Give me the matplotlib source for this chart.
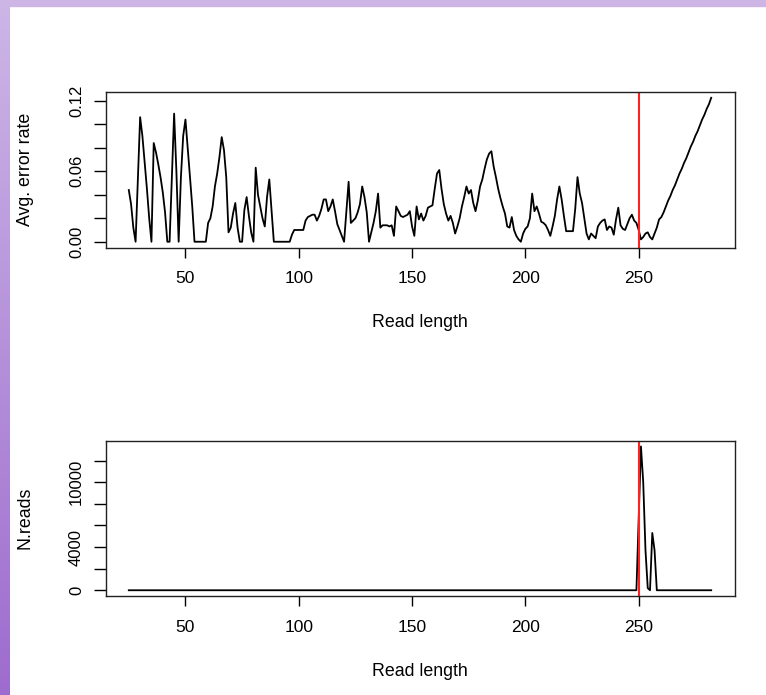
import numpy as np
import matplotlib
matplotlib.use("Agg")
import matplotlib.pyplot as plt
from matplotlib.patches import Rectangle

plt.rcParams['font.family'] = ['Liberation Sans', 'DejaVu Sans']

# read lengths 25..282
read_len = np.arange(25, 283)

# average error rate per read length (rows of ten, first length in comment)
err_rate = [
    0.044, 0.032, 0.012, 0.000, 0.053, 0.106, 0.090, 0.068, 0.045, 0.020,  # 25
    0.000, 0.084, 0.076, 0.066, 0.055, 0.042, 0.025, 0.000, 0.000, 0.054,  # 35
    0.109, 0.060, 0.000, 0.055, 0.090, 0.104, 0.080, 0.055, 0.030, 0.000,  # 45
    0.000, 0.000, 0.000, 0.000, 0.000, 0.016, 0.020, 0.030, 0.047, 0.058,  # 55
    0.072, 0.089, 0.078, 0.055, 0.008, 0.012, 0.024, 0.033, 0.012, 0.000,  # 65
    0.000, 0.027, 0.038, 0.022, 0.008, 0.000, 0.063, 0.040, 0.030, 0.020,  # 75
    0.013, 0.038, 0.053, 0.027, 0.000, 0.000, 0.000, 0.000, 0.000, 0.000,  # 85
    0.000, 0.000, 0.006, 0.010, 0.010, 0.010, 0.010, 0.010, 0.018, 0.021,  # 95
    0.022, 0.023, 0.023, 0.018, 0.022, 0.028, 0.036, 0.036, 0.026, 0.030,  # 105
    0.036, 0.026, 0.015, 0.010, 0.005, 0.000, 0.025, 0.051, 0.016, 0.018,  # 115
    0.020, 0.025, 0.032, 0.047, 0.038, 0.025, 0.000, 0.008, 0.016, 0.026,  # 125
    0.041, 0.012, 0.014, 0.014, 0.014, 0.013, 0.014, 0.005, 0.030, 0.026,  # 135
    0.022, 0.021, 0.022, 0.023, 0.026, 0.013, 0.005, 0.030, 0.019, 0.024,  # 145
    0.018, 0.022, 0.029, 0.030, 0.031, 0.045, 0.058, 0.061, 0.045, 0.032,  # 155
    0.024, 0.018, 0.022, 0.016, 0.007, 0.013, 0.020, 0.030, 0.038, 0.047,  # 165
    0.041, 0.044, 0.033, 0.026, 0.035, 0.047, 0.053, 0.062, 0.070, 0.075,  # 175
    0.077, 0.064, 0.055, 0.045, 0.037, 0.030, 0.024, 0.013, 0.012, 0.021,  # 185
    0.010, 0.005, 0.002, 0.000, 0.007, 0.011, 0.013, 0.020, 0.041, 0.026,  # 195
    0.030, 0.024, 0.017, 0.016, 0.014, 0.010, 0.005, 0.013, 0.022, 0.036,  # 205
    0.047, 0.036, 0.022, 0.009, 0.009, 0.009, 0.009, 0.028, 0.055, 0.041,  # 215
    0.033, 0.020, 0.007, 0.002, 0.007, 0.005, 0.003, 0.013, 0.016, 0.018,  # 225
    0.019, 0.010, 0.013, 0.012, 0.006, 0.019, 0.029, 0.014, 0.011, 0.010,  # 235
    0.015, 0.020, 0.023, 0.018, 0.016, 0.010, 0.002, 0.004, 0.007, 0.008,  # 245
    0.004, 0.002, 0.007, 0.012, 0.019, 0.021, 0.025, 0.030, 0.035, 0.039,  # 255
    0.044, 0.048, 0.053, 0.058, 0.062, 0.067, 0.071, 0.076, 0.081, 0.085,  # 265
    0.090, 0.094, 0.099, 0.104, 0.108, 0.113, 0.117, 0.1225,               # 275
]

# number of reads per length: zero outside 249..258
n_reads = [0] * 224 + [0, 6600, 13300, 10000, 3700, 200, 0, 5300, 3700, 0] + [0] * 24

cutoff = 250

err_ticks = [0.00, 0.02, 0.04, 0.06, 0.08, 0.10, 0.12]
err_labels = ["0.00", "", "", "0.06", "", "", "0.12"]
reads_ticks = [0, 2000, 4000, 6000, 8000, 10000, 12000]
reads_labels = ["0", "", "4000", "", "", "10000", ""]
x_ticks = [50, 100, 150, 200, 250]

W, H = 766, 695
fig = plt.figure(figsize=(W / 100, H / 100), dpi=100)
fig.patch.set_facecolor("white")

# purple slide border (top strip + left gradient strip)
fig.patches.append(Rectangle((0, 1 - 6 / H), 1, 6 / H, transform=fig.transFigure,
                             color="#cdb6e6", zorder=0))
strip = fig.add_axes([0, 0, 10 / W, 1])
top_c = np.array([205, 182, 230]) / 255
bot_c = np.array([158, 108, 206]) / 255
t = np.linspace(0, 1, 256)[:, None]
grad = (top_c[None, :] * (1 - t) + bot_c[None, :] * t)[:, None, :]
strip.imshow(grad, aspect="auto", extent=[0, 1, 0, 1])
strip.axis("off")


def style_axes(ax, yticks, ylabels):
    ax.margins(x=0.04, y=0.04)
    ax.set_xticks(x_ticks)
    ax.set_xticklabels([str(v) for v in x_ticks])
    ax.set_yticks(yticks)
    ax.set_yticklabels(ylabels)
    ax.tick_params(axis="x", length=7.5, width=1.0, pad=9.5, labelsize=12.5)
    ax.tick_params(axis="y", length=9, width=1.0, pad=6.5, labelsize=12)
    for lab in ax.get_yticklabels():
        lab.set_rotation(90)
        lab.set_va("center")
    for s in ax.spines.values():
        s.set_linewidth(1.0)
        s.set_color("#202020")


left, width = 105.5 / W, 629 / W

ax1 = fig.add_axes([left, 1 - 247.5 / H, width, 155.5 / H])
ax1.plot(read_len, err_rate, color="black", lw=1.3)
ax1.axvline(cutoff, color="#ff2020", lw=1.5)
style_axes(ax1, err_ticks, err_labels)

ax2 = fig.add_axes([left, 1 - 596 / H, width, 155.3 / H])
ax2.plot(read_len, n_reads, color="black", lw=1.3)
ax2.axvline(cutoff, color="#ff2020", lw=1.5)
style_axes(ax2, reads_ticks, reads_labels)

fig.text(25 / W, 1 - 169 / H, "Avg. error rate", rotation=90, ha="center", va="center", fontsize=12.8)
fig.text(25 / W, 1 - 518 / H, "N.reads", rotation=90, ha="center", va="center", fontsize=12.8)
fig.text(420 / W, 1 - 322 / H, "Read length", ha="center", va="center", fontsize=12.8)
fig.text(420 / W, 1 - 671 / H, "Read length", ha="center", va="center", fontsize=12.8)

fig.savefig("out.png", dpi=100)
